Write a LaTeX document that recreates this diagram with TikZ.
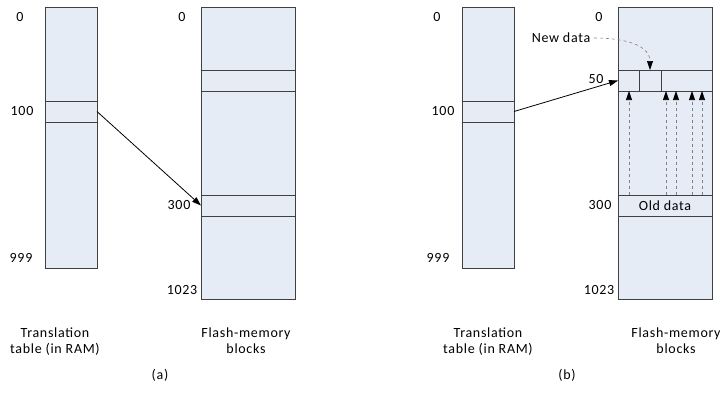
\documentclass[tikz,border=0pt]{standalone}
\usepackage{fontspec}
\setmainfont[LetterSpace=5]{Carlito}
\usepackage{tikz}
\usetikzlibrary{arrows.meta}
\usepackage{xcolor}

\definecolor{cellfill}{HTML}{E6ECF5}
\definecolor{cellline}{HTML}{404040}

\begin{document}
\begin{tikzpicture}[x=1pt, y=-1pt, font=\fontsize{14}{16}\selectfont,
  block/.style={draw=cellline, fill=cellfill, line width=1pt, inner sep=0pt, outer sep=0pt},
  ptr/.style={black, line width=0.8pt, -{Triangle[length=9pt, width=6pt]}},
  moved/.style={gray, dashed, line width=0.6pt, -{Triangle[length=9pt, width=6pt, black]}}]

\useasboundingbox (0,0) rectangle (720,394);

\begin{scope}[xshift=0pt]

% columns
\node[block, minimum width=52pt, minimum height=261pt] (tabA) at (71,137.5) {};
\node[block, minimum width=94pt, minimum height=292pt] (flashA) at (248,153) {};

{
\node[block, minimum width=52pt, minimum height=21pt] (tabA100) at (71,111.5) {};
\node[block, minimum width=94pt, minimum height=21pt] (flashAtop) at (248,80.5) {};
\node[block, minimum width=94pt, minimum height=21pt] (flashA300) at (248,205.5) {};
}

\draw[ptr] (tabA100.east) -- (flashA300.west);

% numbers
{
\node (nA0) at (20,17) {0};
\node (nA100) at (22,111) {100};
\node (nA999) at (21,258) {999};
\node (nAf0) at (182,17) {0};
\node (nA300) at (179,205) {300};
\node (nA1023) at (182,290) {1023};
}

\node[align=center] (capAtab) at (55,342) {Translation\\table (in RAM)};
\node[align=center] (capAflash) at (246,341) {Flash-memory\\blocks};
\node (capA) at (160,375) {(a)};

\end{scope}

\begin{scope}[xshift=417pt]

% columns
\node[block, minimum width=52pt, minimum height=261pt] (tabB) at (71,137.5) {};
\node[block, minimum width=94pt, minimum height=292pt] (flashB) at (248,153) {};

{
\node[block, minimum width=52pt, minimum height=21pt] (tabB100) at (71,111.5) {};
\node[block, minimum width=94pt, minimum height=21pt] (row50) at (248,80.5) {};
\node[block, minimum width=22pt, minimum height=21pt] (newcell) at (233,80.5) {};
\node[block, minimum width=94pt, minimum height=21pt] (olddata) at (248,205.5) {Old data};
}

\draw[ptr] (tabB100.east) -- (row50.west);

% copies of the old pages
\foreach \x in {11,48,58,74,84}
\draw[moved] ([xshift=\x pt]olddata.north west) -- ([xshift=\x pt]row50.south west);

\node (newdata) at (144,38) {New data};
\draw[moved] (newdata.east) .. controls (215,38) and (233,48) .. (newcell.north);

% numbers
{
\node (nB0) at (20,17) {0};
\node (nB100) at (26,111) {100};
\node (nB999) at (21,258) {999};
\node (nBf0) at (182,17) {0};
\node (nB50) at (179,79) {50};
\node (nB300) at (183,205) {300};
\node (nB1023) at (182,290) {1023};
}

\node[align=center] (capBtab) at (71,342) {Translation\\table (in RAM)};
\node[align=center] (capBflash) at (259,341) {Flash-memory\\blocks};
\node (capB) at (150,375) {(b)};

\end{scope}

\end{tikzpicture}
\end{document}
